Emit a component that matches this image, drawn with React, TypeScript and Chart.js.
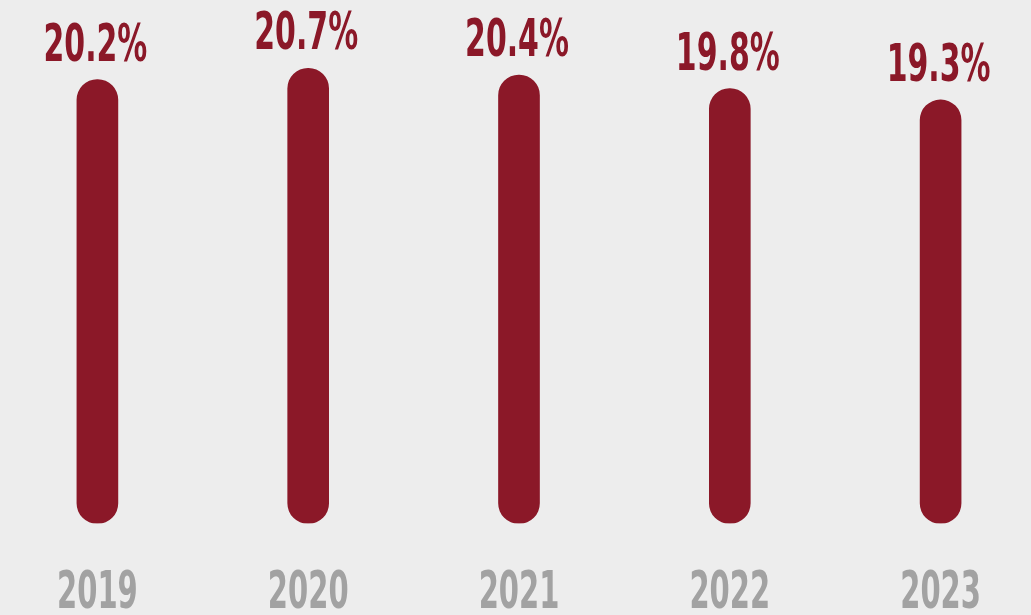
import React, { useEffect, useRef } from "react";
import { Chart, registerables } from "chart.js";

Chart.register(...registerables);

const years: string[] = ["2019", "2020", "2021", "2022", "2023"];
const shares: number[] = [20.2, 20.7, 20.4, 19.8, 19.3];
const valueLabels: string[] = ["20.2%", "20.7%", "20.4%", "19.8%", "19.3%"];

const BAR_COLOR = "#8b1828";
const YEAR_COLOR = "#a2a2a2";
const BG = "#ededed";
const FONT_FAMILY = "'DejaVu Sans Condensed', 'DejaVu Sans', sans-serif";
const VALUE_SCALE_X = 0.64;
const YEAR_SCALE_X = 0.62;
const Y_MIN = 0.56;
const Y_MAX = 23.72;

const labelPlugin = {
  id: "customLabels",
  afterDatasetsDraw(chart: any) {
    const ctx = chart.ctx;
    const meta = chart.getDatasetMeta(0);
    const xScale = chart.scales.x;
    ctx.save();
    ctx.textAlign = "center";
    ctx.textBaseline = "alphabetic";
    meta.data.forEach((bar: any, i: number) => {
      ctx.save();
      ctx.font = `bold 52px ${FONT_FAMILY}`;
      ctx.fillStyle = BAR_COLOR;
      ctx.translate(bar.x - 2, bar.y - 19);
      ctx.scale(VALUE_SCALE_X, 1);
      ctx.fillText(valueLabels[i], 0, 0);
      ctx.restore();
    });
    years.forEach((yr, i) => {
      const x = xScale.getPixelForTick(i);
      ctx.save();
      ctx.font = `bold 52px ${FONT_FAMILY}`;
      ctx.fillStyle = YEAR_COLOR;
      ctx.translate(x, 608);
      ctx.scale(YEAR_SCALE_X, 1);
      ctx.fillText(yr, 0, 0);
      ctx.restore();
    });
    ctx.restore();
  },
};

export default function App() {
  const canvasRef = useRef<HTMLCanvasElement | null>(null);

  useEffect(() => {
    if (!canvasRef.current) return;
    const chart = new Chart(canvasRef.current, {
      type: "bar",
      data: {
        labels: years,
        datasets: [
          {
            data: shares,
            base: Y_MIN,
            backgroundColor: BAR_COLOR,
            barThickness: 41,
            borderRadius: 20.5,
            borderSkipped: false,
          },
        ],
      },
      options: {
        animation: false,
        responsive: false,
        maintainAspectRatio: false,
        layout: { padding: { top: 0, bottom: 91.5, left: 0, right: 0 } },
        plugins: {
          legend: { display: false },
          tooltip: { enabled: false },
        },
        scales: {
          x: {
            display: false,
            offset: true,
            grid: { display: false },
          },
          y: {
            display: false,
            min: Y_MIN,
            max: Y_MAX,
            grid: { display: false },
          },
        },
      },
      plugins: [labelPlugin],
    });
    return () => chart.destroy();
  }, []);

  return (
    <div
      style={{
        position: "fixed",
        left: 0,
        top: 0,
        width: 1031,
        height: 615,
        overflow: "hidden",
        background: BG,
      }}
    >
      <canvas
        ref={canvasRef}
        width={1054}
        height={615}
        style={{ position: "absolute", left: -8, top: 0, width: 1054, height: 615 }}
      />
    </div>
  );
}
